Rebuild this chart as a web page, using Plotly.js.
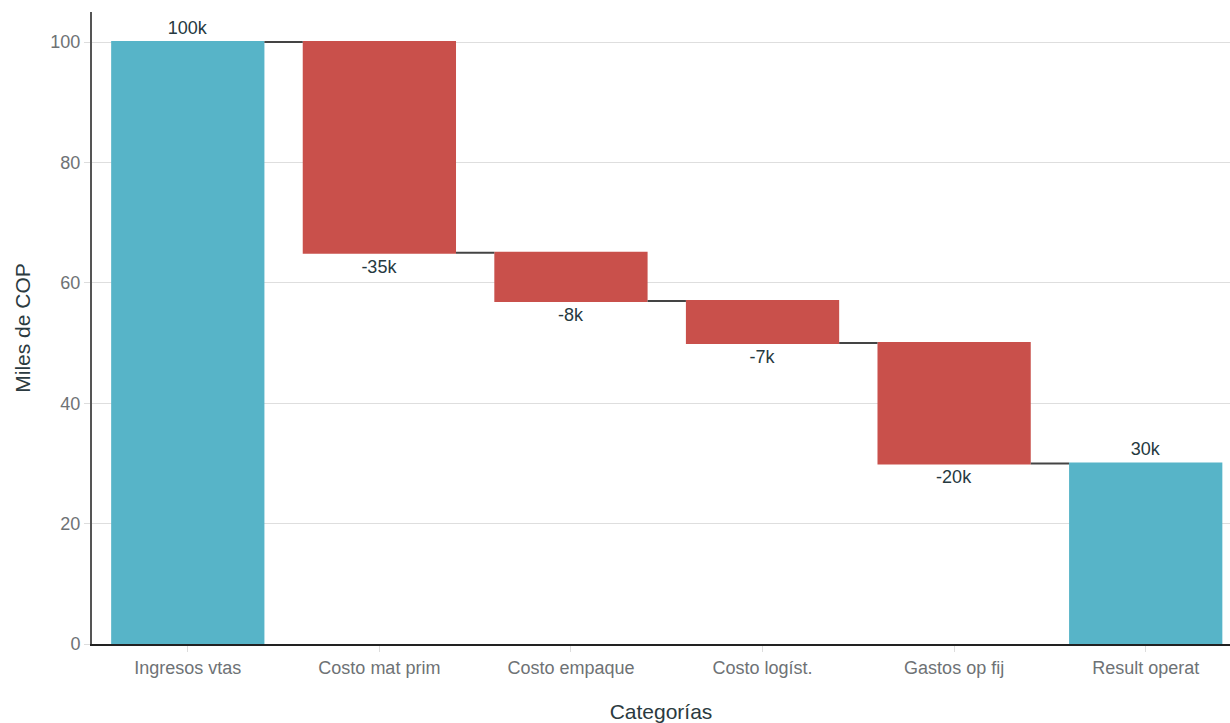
<!DOCTYPE html>
<html>
<head>
<meta charset="utf-8">
<script src="https://cdn.plot.ly/plotly-3.0.1.min.js"></script>
<style>html,body{margin:0;padding:0;background:#fff;}#chart{width:1230px;height:723px;}</style>
</head>
<body>
<div id="chart"></div>
<script>
const categories = ["Ingresos vtas", "Costo mat prim", "Costo empaque", "Costo logíst.", "Gastos op fij", "Result operat"];
const values = [100, -35, -8, -7, -20, 30];
const measures = ["absolute", "relative", "relative", "relative", "relative", "total"];
const labels = ["100k", "-35k", "-8k", "-7k", "-20k", "30k"];

const teal = "#57B4C8";
const red = "#C9504B";
const font = "'Liberation Sans', Arial, sans-serif";

const trace = {
  type: "waterfall",
  x: categories,
  y: values,
  measure: measures,
  text: labels,
  textposition: "outside",
  textfont: {family: font, size: 18, color: "#263940"},
  cliponaxis: false,
  increasing: {marker: {color: teal}},
  decreasing: {marker: {color: red}},
  totals: {marker: {color: teal}},
  connector: {line: {color: "#444444", width: 2}},
  width: 0.8,
  hoverinfo: "x+y"
};

const layout = {
  width: 1230,
  height: 723,
  margin: {l: 92, r: 0, t: 12, b: 79},
  paper_bgcolor: "#ffffff",
  plot_bgcolor: "#ffffff",
  showlegend: false,
  font: {family: font},
  xaxis: {
    title: {text: "Categorías", font: {family: font, size: 21, color: "#2b3a40"}, standoff: 28},
    range: [-0.5, 5.44],
    tickfont: {family: font, size: 18, color: "#6e7275"},
    ticks: "outside", ticklen: 6, tickcolor: "#dddddd", tickwidth: 1,
    showline: true, linecolor: "#222222", linewidth: 2,
    showgrid: false
  },
  yaxis: {
    title: {text: "Miles de COP", font: {family: font, size: 21, color: "#2b3a40"}, standoff: 14},
    range: [0, 105],
    tickvals: [0, 20, 40, 60, 80, 100],
    tickfont: {family: font, size: 18, color: "#6e7275"},
    ticks: "outside", ticklen: 6, tickcolor: "#dddddd", tickwidth: 1,
    showline: true, linecolor: "#555555", linewidth: 2,
    showgrid: true, gridcolor: "#dedede", gridwidth: 1,
    zeroline: false
  }
};

Plotly.newPlot("chart", [trace], layout, {displayModeBar: false, staticPlot: true});
</script>
</body>
</html>
